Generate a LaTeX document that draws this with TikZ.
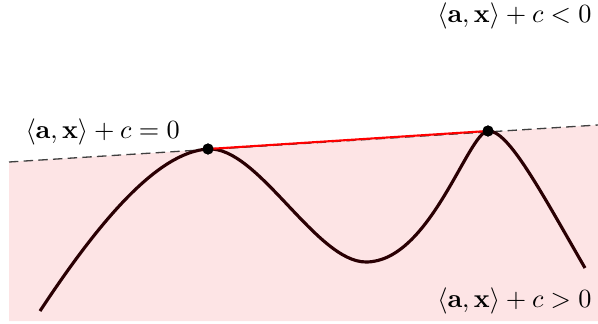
\documentclass[tikz,border=0pt]{standalone}
\usepackage{amsmath}
\usepackage{amssymb}
\usepackage{xcolor}
\usetikzlibrary{calc}
\definecolor{halfpink}{HTML}{FDE4E5}
\definecolor{curvedark}{HTML}{2A0003}

\begin{document}
\begin{tikzpicture}[
  x=0.0134cm, y=-0.0134cm,
  every node/.style={font=\normalsize},
  region/.style={fill=halfpink, draw=none},
  plane/.style={dash pattern=on 3.6pt off 2pt, line width=0.5pt, black!75},
  chord/.style={red, line width=0.8pt},
  curve/.style={curvedark, line width=1.2pt},
  touch/.style={circle, fill=black, inner sep=0pt, minimum size=4.2pt},
  lbl/.style={inner sep=0pt}
]
\useasboundingbox (0,0) rectangle (598,323);

% Half-space and hyperplane
\coordinate (hl) at (9,162);
\coordinate (hr) at (598,125);
\fill[region] (hl) -- (hr) -- (598,321) -- (9,321) -- cycle;
\draw[plane] (hl) -- (hr);

% Curve
\coordinate (start) at (40,311);
\coordinate (valley) at (366,262);
\coordinate (finish) at (585,268);
\node[touch] (p) at (208,149) {};
\node[touch] (q) at (488,131) {};
\draw[curve] (start) .. controls (100,220) and (158,152) .. (p.center)
  .. controls (258,146) and (316,262) .. (valley)
  .. controls (430,262) and (468,132.3) .. (q.center)
  .. controls (508,129.7) and (540,190) .. (finish);

% Supporting segment
\draw[chord] (p.center) -- (q.center);
\node[touch] at (p) {};
\node[touch] at (q) {};

% Labels
\node[lbl, anchor=base west] (zero) at (25,138) {$\langle\mathbf{a},\mathbf{x}\rangle + c = 0$};
\node[lbl, anchor=base east] (neg) at (592,23) {$\langle\mathbf{a},\mathbf{x}\rangle + c < 0$};
\node[lbl, anchor=base east] (pos) at (592,307) {$\langle\mathbf{a},\mathbf{x}\rangle + c > 0$};

\end{tikzpicture}
\end{document}
